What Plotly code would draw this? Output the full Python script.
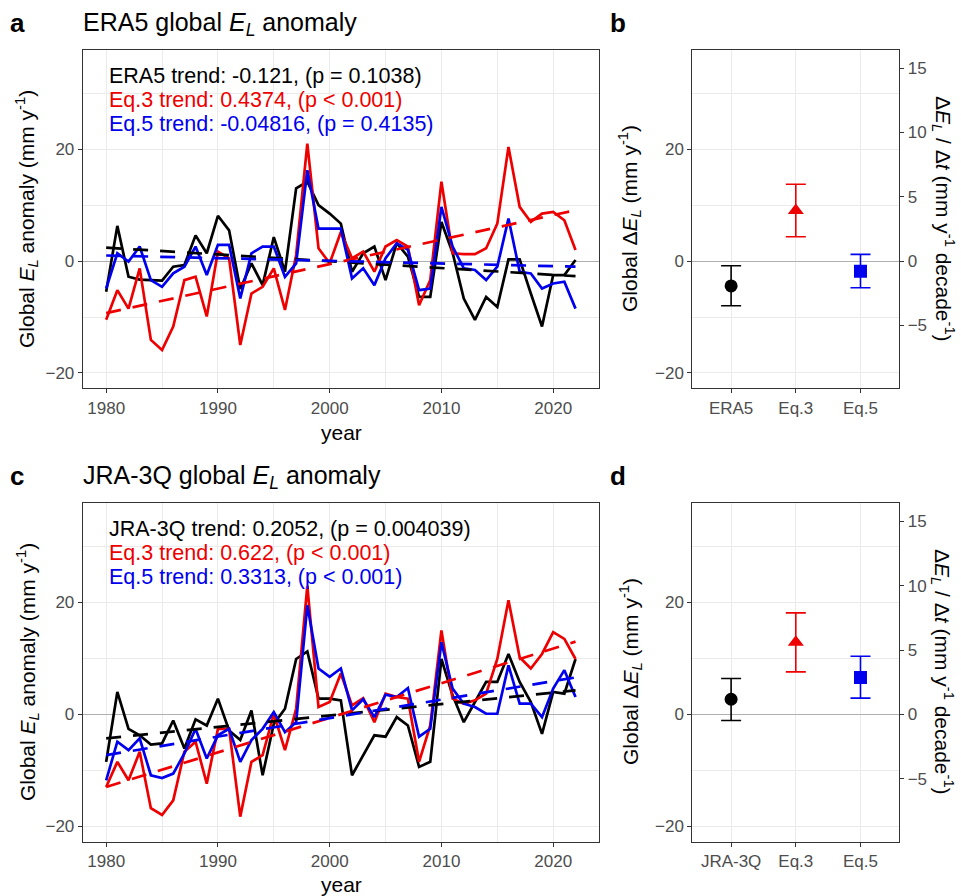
import plotly.graph_objects as go

# ---------------- data ----------------
years = list(range(1980, 2023))

era5_a = [-5.5, 6.3, -2.8, -3.3, -3.4, -3.5, -1.0, -0.7, 4.6, 1.4,
          8.1, 5.5, -5.0, -0.4, -4.3, 4.3, -1.9, 13.0, 14.2, 10.0,
          8.5, 6.7, -1.9, 1.4, 2.6, -3.4, 3.2, 0.8, -6.4, -6.4,
          7.0, 1.5, -6.7, -10.5, -6.4, -8.2, 0.3, 0.3, -5.8, -11.7,
          -2.5, -2.5, 0.2]
eq3_a = [-10.5, -5.2, -8.5, -1.3, -14.1, -15.9, -11.7, -3.4, -2.8, -9.9,
         1.7, 0.5, -15.0, -5.8, -4.6, -1.3, -8.75, 1.1, 21.0, 2.3,
         -0.4, 5.2, 0.5, 1.7, -1.9, 2.6, 3.75, 2.6, -7.9, -3.4,
         14.2, 1.4, 1.25, 1.25, 2.3, 6.7, 20.4, 9.7, 7.0, 8.5,
         8.8, 7.3, 2.0]
eq5_a = [-4.9, 1.4, -0.1, 2.6, -3.4, -4.6, -2.2, -1.0, 2.6, -2.5,
         2.9, 2.9, -6.7, 1.4, 2.6, 2.6, -2.8, -0.4, 16.25, 5.8,
         5.8, 5.8, -3.1, -1.3, -4.3, 0.5, 3.2, 2.0, -5.2, -4.9,
         9.7, 2.6, -1.3, -1.6, -3.4, -1.0, 7.6, -1.9, -2.2, -4.9,
         -4.0, -3.7, -8.5]

jra_c = [-8.5, 4.0, -2.6, -3.75, -5.4, -5.2, -1.1, -6.1, -0.9, -2.0,
         2.8, -2.9, -4.6, 0.7, -10.9, -1.7, 1.0, 9.9, 11.25, 2.8,
         2.8, 2.5, -10.9, -7.3, -3.75, -4.0, -0.5, -2.0, -9.4, -8.5,
         9.9, 3.4, -1.4, 2.2, 5.8, 5.8, 10.8, 5.8, 2.2, -3.5,
         4.0, 3.7, 9.9]
eq3_c = [-13.0, -8.5, -11.8, -6.7, -16.8, -18.0, -15.4, -6.7, -4.9, -12.4,
         -2.6, -2.6, -18.3, -8.5, -7.3, 0.1, -6.4, 1.0, 23.0, 1.3,
         2.2, 7.3, 1.6, 2.9, -1.4, 3.7, 3.1, 2.8, -8.5, -2.0,
         15.0, 2.8, 1.9, 2.5, 3.7, 9.9, 20.4, 10.2, 8.2, 10.8,
         14.7, 13.5, 9.9]
eq5_c = [-11.8, -4.9, -6.4, -4.3, -10.9, -11.4, -10.6, -7.0, -2.6, -7.9,
         -3.75, -2.6, -8.5, -4.6, -2.6, 0.4, -3.2, -1.4, 19.5, 8.2,
         6.7, 8.2, 0.7, 2.7, -0.5, 3.5, 3.1, 4.7, -4.0, -2.6,
         12.9, 4.6, 1.9, 1.3, 0.1, 0.1, 8.75, 1.9, 1.9, -0.5,
         4.6, 7.9, 3.1]

# trend line endpoints (value at first and last year)
trend_years = [1980, 2022]
trend_era5_a = [2.4, -2.7]
trend_eq3_a = [-9.3, 9.1]
trend_eq5_a = [1.0, -1.0]
trend_jra_c = [-4.3, 4.3]
trend_eq3_c = [-13.0, 13.0]
trend_eq5_c = [-7.3, 6.6]

cats_b = ["ERA5", "Eq.3", "Eq.5"]
mean_b = [-4.45, 9.05, -1.8]
lo_b = [-8.0, 4.35, -4.76]
hi_b = [-0.83, 13.75, 1.2]

cats_d = ["JRA-3Q", "Eq.3", "Eq.5"]
mean_d = [2.7, 12.9, 6.6]
lo_d = [-1.1, 7.6, 2.9]
hi_d = [6.4, 18.15, 10.4]

trend_text_a = ["ERA5 trend: -0.121, (p = 0.1038)",
                "Eq.3 trend: 0.4374, (p < 0.001)",
                "Eq.5 trend: -0.04816, (p = 0.4135)"]
trend_text_c = ["JRA-3Q trend: 0.2052, (p = 0.004039)",
                "Eq.3 trend: 0.622, (p < 0.001)",
                "Eq.5 trend: 0.3313, (p < 0.001)"]

colors = ["#000000", "#ee0000", "#0000ee"]
markers = ["circle", "triangle-up", "square"]

# ---------------- layout geometry ----------------
W, H = 961, 896
FONT = "Liberation Sans, Arial, sans-serif"
YR = [-22.75, 37.75]
SEC = 2.3  # ratio between left and right axis of b/d


def px(x):
    return x / W


def py(y):
    return 1 - y / H


fig = go.Figure()

# time series panels
for xa, ya, series, trends in [
    ("x", "y", [era5_a, eq3_a, eq5_a], [trend_era5_a, trend_eq3_a, trend_eq5_a]),
    ("x3", "y3", [jra_c, eq3_c, eq5_c], [trend_jra_c, trend_eq3_c, trend_eq5_c]),
]:
    for s, c in zip(series, colors):
        fig.add_trace(go.Scatter(x=years, y=s, mode="lines", xaxis=xa, yaxis=ya,
                                 line=dict(color=c, width=2.7), showlegend=False,
                                 hoverinfo="skip"))
    for t, c in zip(trends, colors):
        fig.add_trace(go.Scatter(x=trend_years, y=t, mode="lines", xaxis=xa, yaxis=ya,
                                 line=dict(color=c, width=2.7, dash="15px,12px"),
                                 showlegend=False, hoverinfo="skip"))

# error bar panels
for xa, ya, ya2, cats, mean, lo, hi in [
    ("x2", "y2", "y5", cats_b, mean_b, lo_b, hi_b),
    ("x4", "y4", "y6", cats_d, mean_d, lo_d, hi_d),
]:
    for i in range(3):
        fig.add_trace(go.Scatter(
            x=[cats[i]], y=[mean[i]], mode="markers", xaxis=xa, yaxis=ya,
            marker=dict(color=colors[i], symbol=markers[i],
                        size=14 if markers[i] == "triangle-up" else 13),
            error_y=dict(type="data", symmetric=False,
                         array=[hi[i] - mean[i]], arrayminus=[mean[i] - lo[i]],
                         color=colors[i], thickness=1.6, width=10),
            showlegend=False, hoverinfo="skip"))
    # invisible trace to anchor the secondary (right) axis
    fig.add_trace(go.Scatter(x=cats, y=[m / SEC for m in mean], mode="markers",
                             xaxis=xa, yaxis=ya2, marker=dict(opacity=0),
                             showlegend=False, hoverinfo="skip"))

grid = "#ebebeb"
border = "#333333"
tickfont = dict(family=FONT, size=17, color="#4d4d4d")

common = dict(showline=True, mirror=True, linecolor=border, linewidth=1,
              ticks="outside", ticklen=4, tickwidth=1, tickcolor=border,
              tickfont=tickfont, showgrid=True, gridcolor=grid, gridwidth=1)

yr_common = dict(common, range=YR, tickvals=[-20, 0, 20], zeroline=True,
                 zerolinecolor="#b0b0b0", zerolinewidth=1.2,
                 minor=dict(tickvals=[-10, 10, 30], showgrid=True, gridcolor=grid,
                            gridwidth=0.6, ticks=""))
xt_common = dict(common, range=[1977.9, 2024.1], tickvals=[1980, 1990, 2000, 2010, 2020],
                 zeroline=False,
                 minor=dict(tickvals=[1985, 1995, 2005, 2015], showgrid=True,
                            gridcolor=grid, gridwidth=0.6, ticks=""))
xc_common = dict(common, type="category", range=[-0.6, 2.6], zeroline=False)

dom_left = [px(82.7), px(599)]
dom_right = [px(692.3), px(899.3)]
dom_top = [py(388.3), py(50)]
dom_bot = [py(841.5), py(503.3)]

sec_common = dict(showline=False, ticks="outside", ticklen=4, tickwidth=1,
                  tickcolor=border, tickfont=tickfont, showgrid=False, zeroline=False,
                  range=[YR[0] / SEC, YR[1] / SEC], tickvals=[-5, 0, 5, 10, 15],
                  side="right")

fig.update_layout(
    width=W, height=H,
    margin=dict(l=0, r=0, t=0, b=0),
    paper_bgcolor="white", plot_bgcolor="white",
    font=dict(family=FONT, color="black"),
    xaxis=dict(xt_common, domain=dom_left, anchor="y"),
    yaxis=dict(yr_common, domain=dom_top, anchor="x"),
    xaxis2=dict(xc_common, domain=dom_right, anchor="y2"),
    yaxis2=dict(yr_common, domain=dom_top, anchor="x2"),
    xaxis3=dict(xt_common, domain=dom_left, anchor="y3"),
    yaxis3=dict(yr_common, domain=dom_bot, anchor="x3"),
    xaxis4=dict(xc_common, domain=dom_right, anchor="y4"),
    yaxis4=dict(yr_common, domain=dom_bot, anchor="x4"),
    yaxis5=dict(sec_common, overlaying="y2", anchor="x2"),
    yaxis6=dict(sec_common, overlaying="y4", anchor="x4"),
)

ann = []


def text(x, y, t, size, color="black", xanchor="left", angle=0):
    ann.append(dict(x=px(x), y=py(y), xref="paper", yref="paper", text=t,
                    showarrow=False, xanchor=xanchor, yanchor="middle",
                    textangle=angle,
                    font=dict(family=FONT, size=size, color=color)))


# panel letters
text(8, 23, "<b>a</b>", 26)
text(608, 23, "<b>b</b>", 26)
text(8, 476, "<b>c</b>", 26)
text(608, 476, "<b>d</b>", 26)

# titles
text(81, 24, "ERA5 global <i>E<sub>L</sub></i> anomaly", 25)
text(81, 477, "JRA-3Q global <i>E<sub>L</sub></i> anomaly", 25)

# trend texts
for i, t in enumerate(trend_text_a):
    text(107, 76 + i * 24, t, 21.5, colors[i])
for i, t in enumerate(trend_text_c):
    text(107, 529 + i * 24, t, 21.5, colors[i])

# axis titles
ylab = "Global <i>E<sub>L</sub></i> anomaly (mm y<sup>-1</sup>)"
text(27, 219, ylab, 21, xanchor="center", angle=-90)
text(27, 672, ylab, 21, xanchor="center", angle=-90)
text(341, 432, "year", 21, xanchor="center")
text(341, 884, "year", 21, xanchor="center")

ylab_b = "Global Δ<i>E<sub>L</sub></i> (mm y<sup>-1</sup>)"
ylab_b2 = "Δ<i>E<sub>L</sub></i> / Δ<i>t</i> (mm y<sup>-1</sup> decade<sup>-1</sup>)"
text(630, 219, ylab_b, 21, xanchor="center", angle=-90)
text(630, 672, ylab_b, 21, xanchor="center", angle=-90)
text(943, 219, ylab_b2, 21, xanchor="center", angle=90)
text(943, 672, ylab_b2, 21, xanchor="center", angle=90)

fig.update_layout(annotations=ann)

fig.write_html("out.html")
